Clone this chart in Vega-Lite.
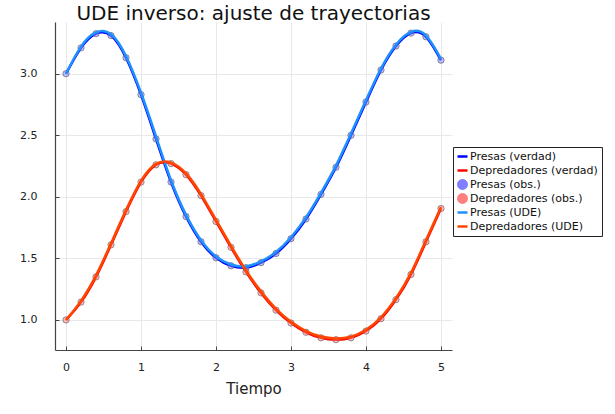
{
  "$schema": "https://vega.github.io/schema/vega-lite/v6.json",
  "autosize": "none",
  "width": 397,
  "height": 328,
  "padding": {"left": 55, "top": 22, "right": 163, "bottom": 64},
  "background": "white",
  "config": {
    "font": "DejaVu Sans",
    "view": {"stroke": null},
    "axis": {
      "grid": true, "gridColor": "#e8e8e8", "gridWidth": 1,
      "domainColor": "#444444", "domainWidth": 1.2,
      "tickColor": "#444444", "tickSize": -4,
      "labelFont": "DejaVu Sans", "labelFontSize": 11, "labelColor": "#222222",
      "titleFont": "DejaVu Sans", "titleFontSize": 15, "titleFontWeight": "normal", "titleColor": "#222222"
    }
  },
  "title": {"text": "UDE inverso: ajuste de trayectorias", "font": "DejaVu Sans", "fontSize": 20, "fontWeight": "normal", "color": "#111111", "anchor": "middle", "offset": 0, "dy": 2, "frame": "group"},
  "data": {"values": [
    {"t": 0.0, "pv": 3.0, "dv": 1.0, "po": 3.0, "do": 1.0, "pu": 3.0, "du": 1.0},
    {"t": 0.2, "pv": 3.21, "dv": 1.145, "po": 3.21, "do": 1.145, "pu": 3.22, "du": 1.155},
    {"t": 0.4, "pv": 3.325, "dv": 1.35, "po": 3.325, "do": 1.35, "pu": 3.335, "du": 1.362},
    {"t": 0.6, "pv": 3.31, "dv": 1.61, "po": 3.31, "do": 1.61, "pu": 3.32, "du": 1.622},
    {"t": 0.8, "pv": 3.13, "dv": 1.88, "po": 3.13, "do": 1.88, "pu": 3.142, "du": 1.892},
    {"t": 1.0, "pv": 2.83, "dv": 2.12, "po": 2.83, "do": 2.12, "pu": 2.845, "du": 2.13},
    {"t": 1.2, "pv": 2.47, "dv": 2.26, "po": 2.47, "do": 2.26, "pu": 2.49, "du": 2.268},
    {"t": 1.4, "pv": 2.12, "dv": 2.27, "po": 2.12, "do": 2.27, "pu": 2.135, "du": 2.278},
    {"t": 1.6, "pv": 1.84, "dv": 2.18, "po": 1.84, "do": 2.18, "pu": 1.853, "du": 2.19},
    {"t": 1.8, "pv": 1.635, "dv": 2.01, "po": 1.635, "do": 2.01, "pu": 1.647, "du": 2.022},
    {"t": 2.0, "pv": 1.505, "dv": 1.8, "po": 1.505, "do": 1.8, "pu": 1.515, "du": 1.812},
    {"t": 2.2, "pv": 1.44, "dv": 1.59, "po": 1.44, "do": 1.59, "pu": 1.45, "du": 1.602},
    {"t": 2.4, "pv": 1.425, "dv": 1.39, "po": 1.425, "do": 1.39, "pu": 1.435, "du": 1.402},
    {"t": 2.6, "pv": 1.465, "dv": 1.22, "po": 1.465, "do": 1.22, "pu": 1.475, "du": 1.232},
    {"t": 2.8, "pv": 1.54, "dv": 1.08, "po": 1.54, "do": 1.08, "pu": 1.552, "du": 1.09},
    {"t": 3.0, "pv": 1.66, "dv": 0.975, "po": 1.66, "do": 0.975, "pu": 1.672, "du": 0.985},
    {"t": 3.2, "pv": 1.82, "dv": 0.9, "po": 1.82, "do": 0.9, "pu": 1.833, "du": 0.91},
    {"t": 3.4, "pv": 2.02, "dv": 0.855, "po": 2.02, "do": 0.855, "pu": 2.033, "du": 0.865},
    {"t": 3.6, "pv": 2.24, "dv": 0.84, "po": 2.24, "do": 0.84, "pu": 2.254, "du": 0.85},
    {"t": 3.8, "pv": 2.5, "dv": 0.855, "po": 2.5, "do": 0.855, "pu": 2.514, "du": 0.865},
    {"t": 4.0, "pv": 2.77, "dv": 0.91, "po": 2.77, "do": 0.91, "pu": 2.784, "du": 0.921},
    {"t": 4.2, "pv": 3.03, "dv": 1.01, "po": 3.03, "do": 1.01, "pu": 3.042, "du": 1.022},
    {"t": 4.4, "pv": 3.225, "dv": 1.165, "po": 3.225, "do": 1.165, "pu": 3.236, "du": 1.177},
    {"t": 4.6, "pv": 3.33, "dv": 1.37, "po": 3.33, "do": 1.37, "pu": 3.34, "du": 1.382},
    {"t": 4.8, "pv": 3.3, "dv": 1.635, "po": 3.3, "do": 1.635, "pu": 3.31, "du": 1.648},
    {"t": 5.0, "pv": 3.11, "dv": 1.905, "po": 3.11, "do": 1.905, "pu": 3.12, "du": 1.918}
  ]},
  "layer": [
    {
      "transform": [{"fold": ["pv", "dv"], "as": ["serie", "v"]}],
      "mark": {"type": "line", "interpolate": "natural", "strokeWidth": 2.5},
      "encoding": {
        "x": {"field": "t", "type": "quantitative", "title": "Tiempo",
              "scale": {"domain": [-0.147, 5.147], "nice": false, "zero": false},
              "axis": {"values": [0, 1, 2, 3, 4, 5], "format": "d", "labelPadding": 15, "titlePadding": 9}},
        "y": {"field": "v", "type": "quantitative", "title": null,
              "scale": {"domain": [0.756, 3.42], "nice": false, "zero": false},
              "axis": {"values": [1.0, 1.5, 2.0, 2.5, 3.0], "format": ".1f", "labelPadding": 22}},
        "color": {"field": "serie", "type": "nominal",
          "scale": {
            "domain": ["pv", "dv", "po", "do", "pu", "du"],
            "range": ["#0000ff", "#ff0000", "#7f7fff", "#ff7f7f", "#1e90ff", "#ff4500"]
          },
          "legend": {
            "title": null, "orient": "none", "legendX": 398, "legendY": 125,
            "strokeColor": "#222222", "padding": 4, "labelFontSize": 11, "labelFont": "DejaVu Sans", "labelColor": "#111111",
            "symbolSize": 100, "rowPadding": 2, "clipHeight": 11, "labelOffset": 2, "fillColor": "white",
            "labelExpr": "{'pv': 'Presas (verdad)', 'dv': 'Depredadores (verdad)', 'po': 'Presas (obs.)', 'do': 'Depredadores (obs.)', 'pu': 'Presas (UDE)', 'du': 'Depredadores (UDE)'}[datum.value]",
            "encode": {
              "symbols": {
                "update": {
                  "shape": {"signal": "datum.value == 'po' || datum.value == 'do' ? 'circle' : 'stroke'"},
                  "strokeWidth": {"signal": "datum.value == 'po' || datum.value == 'do' ? 1 : 2.5"},
                  "stroke": {"signal": "datum.value == 'po' || datum.value == 'do' ? '#666666' : scale('color', datum.value)"}
                }
              }
            }
          }
        }
      }
    },
    {
      "transform": [{"fold": ["po", "do"], "as": ["serie", "v"]}],
      "mark": {"type": "point", "filled": true, "size": 40, "fillOpacity": 0.5, "stroke": "#555555", "strokeOpacity": 0.6, "strokeWidth": 1},
      "encoding": {
        "x": {"field": "t", "type": "quantitative"},
        "y": {"field": "v", "type": "quantitative"},
        "color": {"field": "serie", "type": "nominal"}
      }
    },
    {
      "transform": [{"fold": ["pu", "du"], "as": ["serie", "v"]}],
      "mark": {"type": "line", "interpolate": "natural", "strokeWidth": 2.5},
      "encoding": {
        "x": {"field": "t", "type": "quantitative"},
        "y": {"field": "v", "type": "quantitative"},
        "color": {"field": "serie", "type": "nominal"}
      }
    }
  ]
}
